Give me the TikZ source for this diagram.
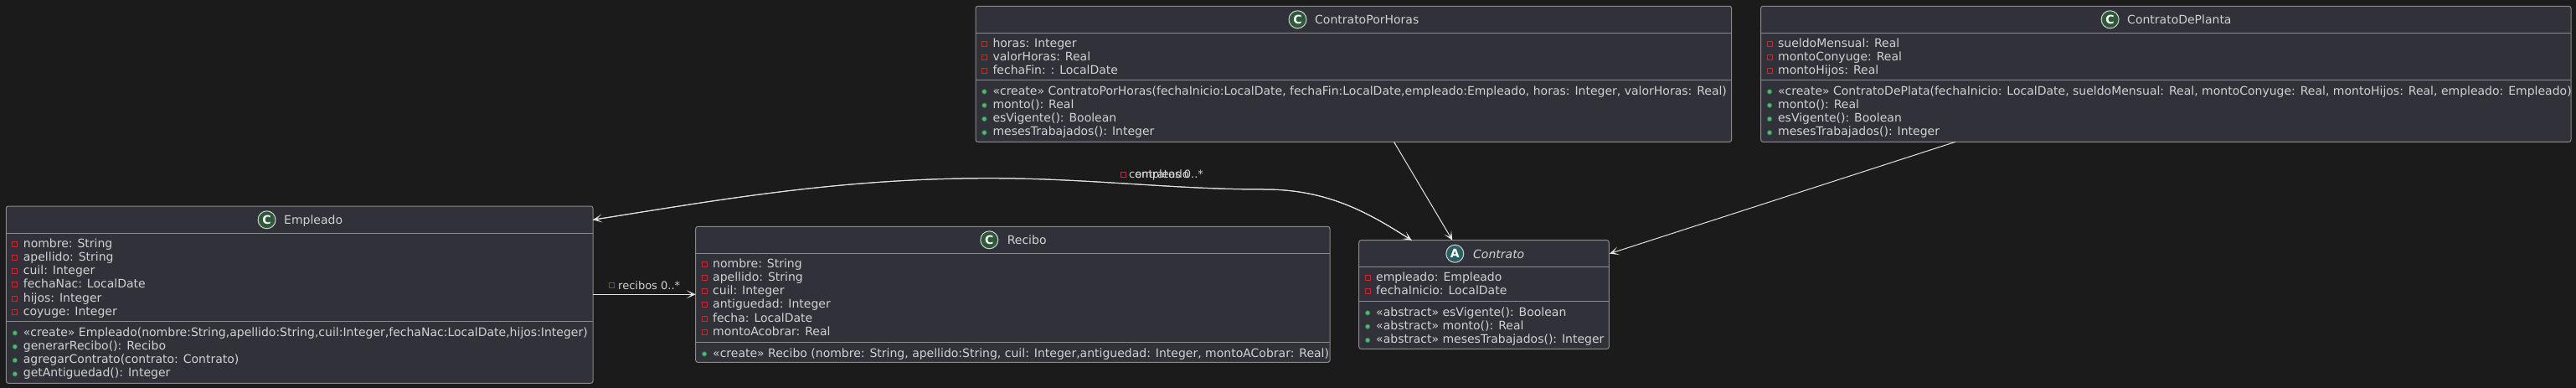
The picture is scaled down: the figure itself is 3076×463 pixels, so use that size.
\documentclass[tikz,border=0pt]{standalone}
\usepackage{fontspec}
\setmainfont{DejaVu Sans}
\usetikzlibrary{arrows.meta}
\definecolor{bgc}{HTML}{1B1B1B}
\definecolor{boxc}{HTML}{31313A}
\definecolor{linec}{HTML}{8A8A8A}
\definecolor{txtc}{HTML}{D2D2D2}
\definecolor{arrc}{HTML}{E4E4E4}
\definecolor{redc}{HTML}{C82930}
\definecolor{dotc}{HTML}{5CB56F}
\definecolor{dotb}{HTML}{1F7A48}
\definecolor{circc}{HTML}{2F5A3A}
\definecolor{circa}{HTML}{2A6064}
\newcount\rowno
\tikzset{
  classbox/.style={draw=linec,fill=boxc,line width=1pt,rounded corners=2.5pt,anchor=north west,inner sep=0pt,outer sep=0pt},
  seprule/.style={draw=linec,line width=1pt},
  rowtext/.style={text=txtc,font=\fontsize{14}{16}\selectfont,anchor=base west,inner sep=0pt},
  titletext/.style={text=txtc,font=\fontsize{14}{16}\selectfont,anchor=base west,inner sep=0pt},
  edgelabel/.style={text=txtc,font=\fontsize{13}{15}\selectfont,anchor=base west,inner sep=0pt},
  badge/.style={circle,draw=txtc,line width=1pt,minimum size=21pt,inner sep=0pt,text=white,font=\bfseries\fontsize{14}{16}\selectfont},
  assoc/.style={draw=arrc,line width=1pt,-{Stealth[length=11pt,width=10pt,inset=6.5pt]}},
  privmark/.style={draw=redc,line width=1pt},
  pubmark/.style={fill=dotc,draw=dotb,line width=.7pt}
}
% left, baseline, text
\newcommand{\privrow}[3]{%
  \global\advance\rowno by 1
  \draw[privmark] (#1+7.4,#2-7) rectangle (#1+13.4,#2-1);
  \node[rowtext] (r\the\rowno) at (#1+20.3,#2) {#3};}
\newcommand{\pubrow}[3]{%
  \global\advance\rowno by 1
  \fill[pubmark] (#1+10.4,#2-3.6) circle (2.8);
  \node[rowtext] (r\the\rowno) at (#1+20.3,#2) {#3};}
\begin{document}
\begin{tikzpicture}[x=1pt,y=-1pt]
\useasboundingbox (0,0) rectangle (3076,463);
\fill[bgc] (0,0) rectangle (3076,463);

% ---------- ContratoPorHoras
\node[classbox,minimum width=902.6pt,minimum height=162pt] (cph) at (1165,7.3) {};
\draw[seprule] (cph.west |- 0,39.3) -- (cph.east |- 0,39.3);
\draw[seprule] (cph.west |- 0,95.3) -- (cph.east |- 0,95.3);
\node[badge,fill=circc] (cphc) at (1549.5,23.3) {C};
\node[titletext] (cpht) at (1570,28.3) {ContratoPorHoras};
\privrow{1165}{56}{horas: Integer}
\privrow{1165}{72.3}{valorHoras: Real}
\privrow{1165}{88.6}{fechaFin: : LocalDate}
\pubrow{1165}{113}{«create» ContratoPorHoras(fechaInicio:LocalDate, fechaFin:LocalDate,empleado:Empleado, horas: Integer, valorHoras: Real)}
\pubrow{1165}{129.3}{monto(): Real}
\pubrow{1165}{145.6}{esVigente(): Boolean}
\pubrow{1165}{161.9}{mesesTrabajados(): Integer}

% ---------- ContratoDePlanta
\node[classbox,minimum width=967.4pt,minimum height=162pt] (cdp) at (2102.6,7.3) {};
\draw[seprule] (cdp.west |- 0,39.3) -- (cdp.east |- 0,39.3);
\draw[seprule] (cdp.west |- 0,95.3) -- (cdp.east |- 0,95.3);
\node[badge,fill=circc] (cdpc) at (2519.6,23.3) {C};
\node[titletext] (cdpt) at (2540,28.3) {ContratoDePlanta};
\privrow{2102.6}{56}{sueldoMensual: Real}
\privrow{2102.6}{72.3}{montoConyuge: Real}
\privrow{2102.6}{88.6}{montoHijos: Real}
\pubrow{2102.6}{113}{«create» ContratoDePlata(fechaInicio: LocalDate, sueldoMensual: Real, montoConyuge: Real, montoHijos: Real, empleado: Empleado)}
\pubrow{2102.6}{129.3}{monto(): Real}
\pubrow{2102.6}{145.6}{esVigente(): Boolean}
\pubrow{2102.6}{161.9}{mesesTrabajados(): Integer}

% ---------- Empleado
\node[classbox,minimum width=700.6pt,minimum height=211.3pt] (emp) at (7.4,246) {};
\draw[seprule] (emp.west |- 0,278.3) -- (emp.east |- 0,278.3);
\draw[seprule] (emp.west |- 0,383.3) -- (emp.east |- 0,383.3);
\node[badge,fill=circc] (empc) at (318.6,262.3) {C};
\node[titletext] (empt) at (339,267) {Empleado};
\privrow{7.4}{295}{nombre: String}
\privrow{7.4}{311.3}{apellido: String}
\privrow{7.4}{327.6}{cuil: Integer}
\privrow{7.4}{343.9}{fechaNac: LocalDate}
\privrow{7.4}{360.2}{hijos: Integer}
\privrow{7.4}{376.5}{coyuge: Integer}
\pubrow{7.4}{401}{«create» Empleado(nombre:String,apellido:String,cuil:Integer,fechaNac:LocalDate,hijos:Integer)}
\pubrow{7.4}{417.3}{generarRecibo(): Recibo}
\pubrow{7.4}{433.6}{agregarContrato(contrato: Contrato)}
\pubrow{7.4}{449.9}{getAntiguedad(): Integer}

% ---------- Recibo
\node[classbox,minimum width=757.3pt,minimum height=162pt] (rec) at (830.7,270.3) {};
\draw[seprule] (rec.west |- 0,302.3) -- (rec.east |- 0,302.3);
\draw[seprule] (rec.west |- 0,408.3) -- (rec.east |- 0,408.3);
\node[badge,fill=circc] (recc) at (1181.3,286.3) {C};
\node[titletext] (rect) at (1202.6,291) {Recibo};
\privrow{830.7}{319}{nombre: String}
\privrow{830.7}{335.3}{apellido: String}
\privrow{830.7}{351.6}{cuil: Integer}
\privrow{830.7}{367.9}{antiguedad: Integer}
\privrow{830.7}{384.2}{fecha: LocalDate}
\privrow{830.7}{400.5}{montoAcobrar: Real}
\pubrow{830.7}{426}{«create» Recibo (nombre: String, apellido:String, cuil: Integer,antiguedad: Integer, montoACobrar: Real)}

% ---------- Contrato
\node[classbox,minimum width=298.6pt,minimum height=129.6pt] (con) at (1622.7,286.7) {};
\draw[seprule] (con.west |- 0,318.3) -- (con.east |- 0,318.3);
\draw[seprule] (con.west |- 0,359.3) -- (con.east |- 0,359.3);
\node[badge,fill=circa] (conc) at (1737.3,302.7) {A};
\node[titletext,font=\itshape\fontsize{14}{16}\selectfont] (cont) at (1759,308) {Contrato};
\privrow{1622.7}{335}{empleado: Empleado}
\privrow{1622.7}{351.3}{fechaInicio: LocalDate}
\pubrow{1622.7}{377}{«abstract» esVigente(): Boolean}
\pubrow{1622.7}{393.3}{«abstract» monto(): Real}
\pubrow{1622.7}{409.6}{«abstract» mesesTrabajados(): Integer}

% ---------- connectors
\coordinate (cphout) at (1664.5,169.3);
\coordinate (conintop) at (1734.3,286.7);
\coordinate (cdpout) at (2335,169.3);
\coordinate (coninright) at (1922,302.7);
\coordinate (empout) at (708,351.3);
\coordinate (recin) at (830.7,351.3);
\coordinate (empside) at (708,262.3);
\coordinate (contop) at (1685.7,286.7);

\draw[assoc] (cphout) -- (conintop);
\draw[assoc] (cdpout) -- (coninright);
\draw[assoc] (empout) -- (recin);
\draw[assoc] (empside) .. controls (850,240) and (1000,212.7) .. (1181,212.7)
  .. controls (1300,212.7) and (1400,226) .. (1510,226)
  .. controls (1590,226) and (1640,258) .. (contop);
\draw[assoc] (contop) .. controls (1640,258) and (1590,226) .. (1510,226)
  .. controls (1400,226) and (1300,212.7) .. (1181,212.7)
  .. controls (1000,212.7) and (850,240) .. (empside);

% ---------- connector labels
\draw[privmark] (730.5-3,337.5) rectangle (730.5+3,343.5);
\node[edgelabel] (lrec) at (738,345) {recibos 0..*};
\draw[privmark] (1341.3-3,205.5) rectangle (1341.3+3,211.5);
\node[edgelabel] (lcontr) at (1348,212) {contratos 0..*};
\node[edgelabel] (lempl) at (1355,212) {empleado};
\end{tikzpicture}
\end{document}
